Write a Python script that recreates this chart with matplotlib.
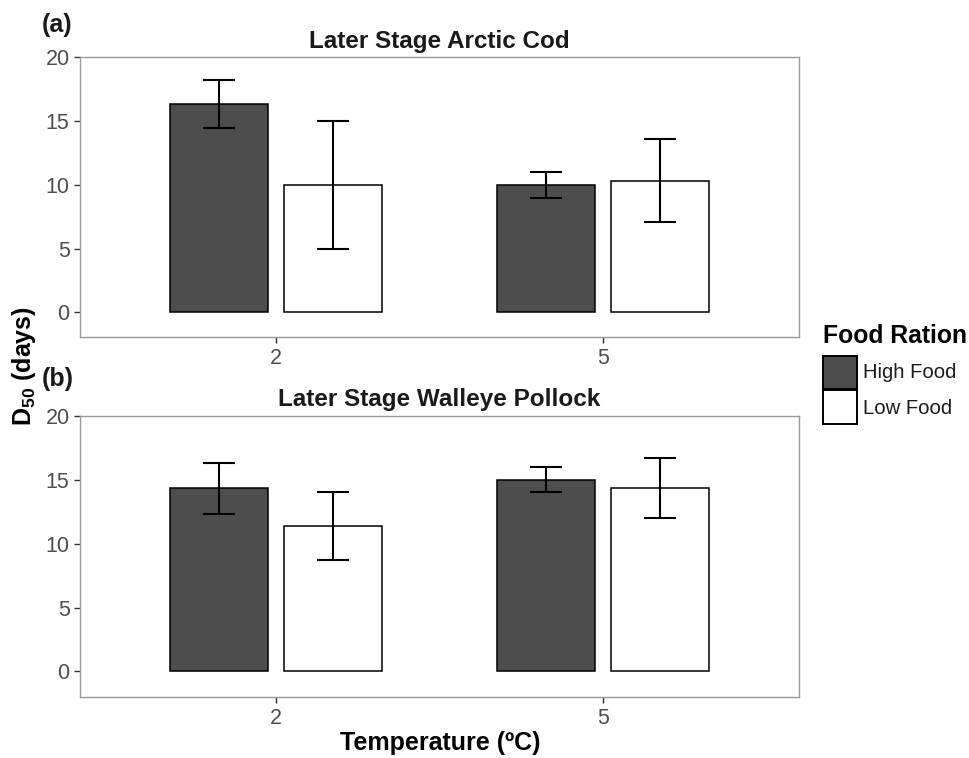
import numpy as np
import matplotlib
matplotlib.use("Agg")
import matplotlib.pyplot as plt
from matplotlib.patches import Rectangle

plt.rcParams['font.family'] = ['Liberation Sans', 'DejaVu Sans']

# ---------------- DATA ----------------
temps = ['2', '5']
groups = ['High Food', 'Low Food']

cod_high = [16.35, 10.0]
cod_high_lo = [14.45, 9.0]
cod_high_hi = [18.2, 11.0]
cod_low = [10.0, 10.3]
cod_low_lo = [5.0, 7.05]
cod_low_hi = [15.0, 13.6]

pol_high = [14.35, 15.0]
pol_high_lo = [12.3, 14.05]
pol_high_hi = [16.35, 16.0]
pol_low = [11.35, 14.35]
pol_low_lo = [8.7, 12.0]
pol_low_hi = [14.05, 16.7]
# --------------------------------------

DARK = '#4d4d4d'
W, H = 970, 758


def px(x, y):
    return x / W, 1 - y / H


def draw_panel(ax, title, high, high_lo, high_hi, low, low_lo, low_hi):
    xs = np.arange(1, len(temps) + 1)
    width = 0.3
    off = 0.175
    for vals, lo, hi, shift, color in [(high, high_lo, high_hi, -off, DARK),
                                       (low, low_lo, low_hi, off, 'white')]:
        vals = np.array(vals)
        ax.bar(xs + shift, vals, width=width, color=color, edgecolor='black',
               linewidth=1.1, zorder=2)
        yerr = [vals - np.array(lo), np.array(hi) - vals]
        ax.errorbar(xs + shift, vals, yerr=yerr, fmt='none', ecolor='black',
                    elinewidth=1.5, capsize=11.6, capthick=1.5, zorder=3)
    ax.set_xlim(0.4, 2.6)
    ax.set_ylim(-1.96, 20)
    ax.set_xticks(xs)
    ax.set_xticklabels(temps)
    ax.set_yticks([0, 5, 10, 15, 20])
    for s in ax.spines.values():
        s.set_color('#9a9a9a')
        s.set_linewidth(1.0)
    ax.tick_params(axis='both', colors='#333333', labelcolor='#4d4d4d',
                   labelsize=15.5, length=4, width=1.0)
    ax.tick_params(axis='x', pad=4)
    ax.set_title(title, fontsize=17.5, fontweight='bold', pad=7, color='#1a1a1a')


fig = plt.figure(figsize=(9.7, 7.58), dpi=100)

l, t = px(80, 57.3)
r, b = px(799, 337.3)
ax1 = fig.add_axes([l, b, r - l, t - b])
draw_panel(ax1, 'Later Stage Arctic Cod', cod_high, cod_high_lo, cod_high_hi,
           cod_low, cod_low_lo, cod_low_hi)

l, t = px(80, 416)
r, b = px(799, 696.5)
ax2 = fig.add_axes([l, b, r - l, t - b])
draw_panel(ax2, 'Later Stage Walleye Pollock', pol_high, pol_high_lo, pol_high_hi,
           pol_low, pol_low_lo, pol_low_hi)

# panel labels
fig.text(*px(42, 25), '(a)', fontsize=18, fontweight='bold', va='center', ha='left', color='#1a1a1a')
fig.text(*px(42, 379), '(b)', fontsize=18, fontweight='bold', va='center', ha='left', color='#1a1a1a')

# axis labels
fig.text(*px(24, 366), r'D$_{\mathregular{50}}$ (days)', fontsize=18, fontweight='bold',
         rotation=90, va='center', ha='center')
fig.text(*px(440, 743), 'Temperature (ºC)', fontsize=18, fontweight='bold',
         va='center', ha='center')

# legend
fig.text(*px(823, 336), 'Food Ration', fontsize=17.8, fontweight='bold', va='center', ha='left')
for i, (name, color) in enumerate(zip(groups, [DARK, 'white'])):
    x0, y0 = px(823, 355 + 34.5 * (i + 1))
    w = 34 / W
    h = 34 / H
    fig.patches.append(Rectangle((x0, y0), w, h, transform=fig.transFigure,
                                 facecolor=color, edgecolor='black', linewidth=1.4))
    fig.text(*px(863, 373 + 35 * i), name, fontsize=14.6, va='center', ha='left', color='#1a1a1a')

fig.savefig('out.png', dpi=100)
